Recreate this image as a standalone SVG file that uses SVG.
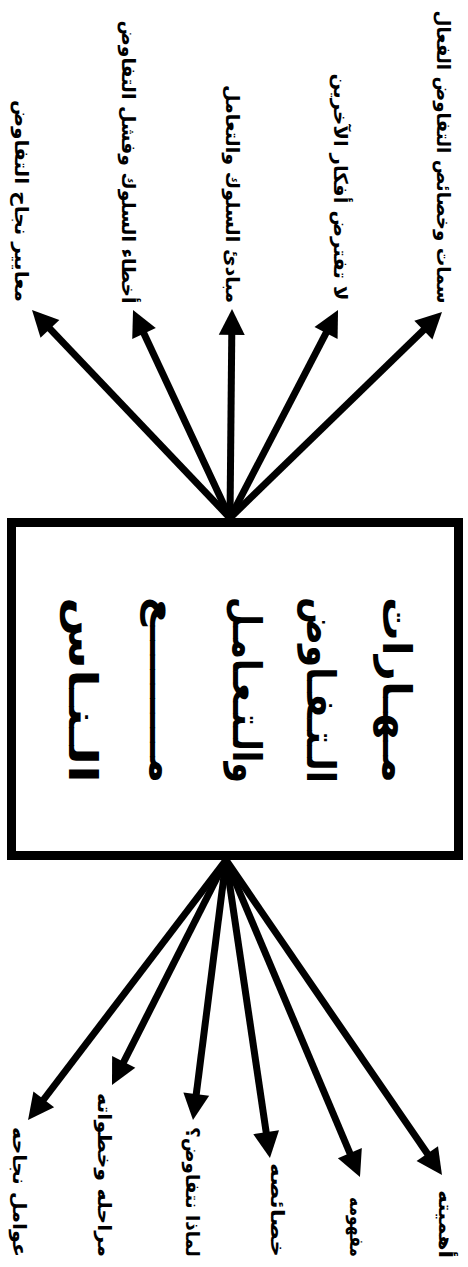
<svg xmlns="http://www.w3.org/2000/svg" width="468" height="1267" viewBox="0 0 468 1267">
<style>
.lbl{font-family:"DejaVu Sans","Noto Sans",sans-serif;font-weight:bold;font-size:19px;fill:#000}
.ttl{font-family:"DejaVu Sans","Noto Sans",sans-serif;font-weight:bold;font-size:40px;fill:#000}
.box{fill:#fff;stroke:#000;stroke-width:9}
.conn line{stroke:#000;stroke-width:7;marker-end:url(#ah)}
</style>
<defs>
<marker id="ah" markerUnits="userSpaceOnUse" markerWidth="26" markerHeight="26" refX="14" refY="13" orient="auto" overflow="visible">
<path d="M0,0 L26,13 L0,26 Z" fill="#000"/>
</marker>
</defs>
<rect width="468" height="1267" fill="#fff"/>

<g id="connectors" class="conn">
<line x1="230" y1="518" x2="40.3" y2="318.7"/>
<line x1="230" y1="518" x2="138.1" y2="320.9"/>
<line x1="230" y1="518" x2="231.9" y2="321"/>
<line x1="230" y1="518" x2="332.5" y2="320.6"/>
<line x1="230" y1="518" x2="433.4" y2="320.4"/>
<line x1="226" y1="860" x2="35.3" y2="1110.5"/>
<line x1="226" y1="860" x2="117.4" y2="1074.3"/>
<line x1="226" y1="860" x2="194.5" y2="1108.1"/>
<line x1="226" y1="860" x2="268.2" y2="1146.1"/>
<line x1="226" y1="860" x2="355.3" y2="1166"/>
<line x1="226" y1="860" x2="435.2" y2="1165.1"/>
</g>

<g id="center">
<rect class="box" x="11.5" y="522.5" width="447" height="333"/>
<text class="ttl" direction="rtl" text-anchor="middle" textLength="186" lengthAdjust="spacingAndGlyphs" transform="translate(383,690) rotate(90)" y="0">مـهـارات</text>
<text class="ttl" direction="rtl" text-anchor="middle" textLength="186" lengthAdjust="spacingAndGlyphs" transform="translate(307,690) rotate(90)" y="0">الـتـفـاوض</text>
<text class="ttl" direction="rtl" text-anchor="middle" textLength="186" lengthAdjust="spacingAndGlyphs" transform="translate(233,690) rotate(90)" y="0">والـتـعـامـل</text>
<text class="ttl" direction="rtl" text-anchor="middle" textLength="186" lengthAdjust="spacingAndGlyphs" transform="translate(150,690) rotate(90)" y="0">مـــــــــع</text>
<text class="ttl" direction="rtl" text-anchor="middle" textLength="186" lengthAdjust="spacingAndGlyphs" transform="translate(69,690) rotate(90)" y="0">الـنـاس</text>
</g>

<g id="n-top1"><text class="lbl" direction="rtl" text-anchor="middle" textLength="293" lengthAdjust="spacingAndGlyphs" transform="translate(443,157) rotate(90)" y="6">سمات وخصائص التفاوض الفعال</text></g>
<g id="n-top2"><text class="lbl" direction="rtl" text-anchor="middle" textLength="227" lengthAdjust="spacingAndGlyphs" transform="translate(340,187) rotate(90)" y="6">لا تفترض أفكار الآخرين</text></g>
<g id="n-top3"><text class="lbl" direction="rtl" text-anchor="middle" textLength="218" lengthAdjust="spacingAndGlyphs" transform="translate(232,194) rotate(90)" y="6">مبادئ السلوك والتعامل</text></g>
<g id="n-top4"><text class="lbl" direction="rtl" text-anchor="middle" textLength="283" lengthAdjust="spacingAndGlyphs" transform="translate(128,162) rotate(90)" y="6">أخطاء السلوك وفشل التفاوض</text></g>
<g id="n-top5"><text class="lbl" direction="rtl" text-anchor="middle" textLength="202" lengthAdjust="spacingAndGlyphs" transform="translate(21,201) rotate(90)" y="6">معايير نجاح التفاوض</text></g>

<g id="n-bot1"><text class="lbl" direction="rtl" text-anchor="middle" textLength="68" lengthAdjust="spacingAndGlyphs" transform="translate(445,1224) rotate(90)" y="6">أهميته</text></g>
<g id="n-bot2"><text class="lbl" direction="rtl" text-anchor="middle" textLength="60" lengthAdjust="spacingAndGlyphs" transform="translate(356,1227) rotate(90)" y="6">مفهومه</text></g>
<g id="n-bot3"><text class="lbl" direction="rtl" text-anchor="middle" textLength="94" lengthAdjust="spacingAndGlyphs" transform="translate(277,1210) rotate(90)" y="6">خصائصه</text></g>
<g id="n-bot4"><text class="lbl" direction="rtl" text-anchor="middle" textLength="130" lengthAdjust="spacingAndGlyphs" transform="translate(192,1192) rotate(90)" y="6">لماذا نتفاوض؟</text></g>
<g id="n-bot5"><text class="lbl" direction="rtl" text-anchor="middle" textLength="164" lengthAdjust="spacingAndGlyphs" transform="translate(104,1175) rotate(90)" y="6">مراحله وخطواته</text></g>
<g id="n-bot6"><text class="lbl" direction="rtl" text-anchor="middle" textLength="130" lengthAdjust="spacingAndGlyphs" transform="translate(19,1192) rotate(90)" y="6">عوامل نجاحه</text></g>
</svg>
